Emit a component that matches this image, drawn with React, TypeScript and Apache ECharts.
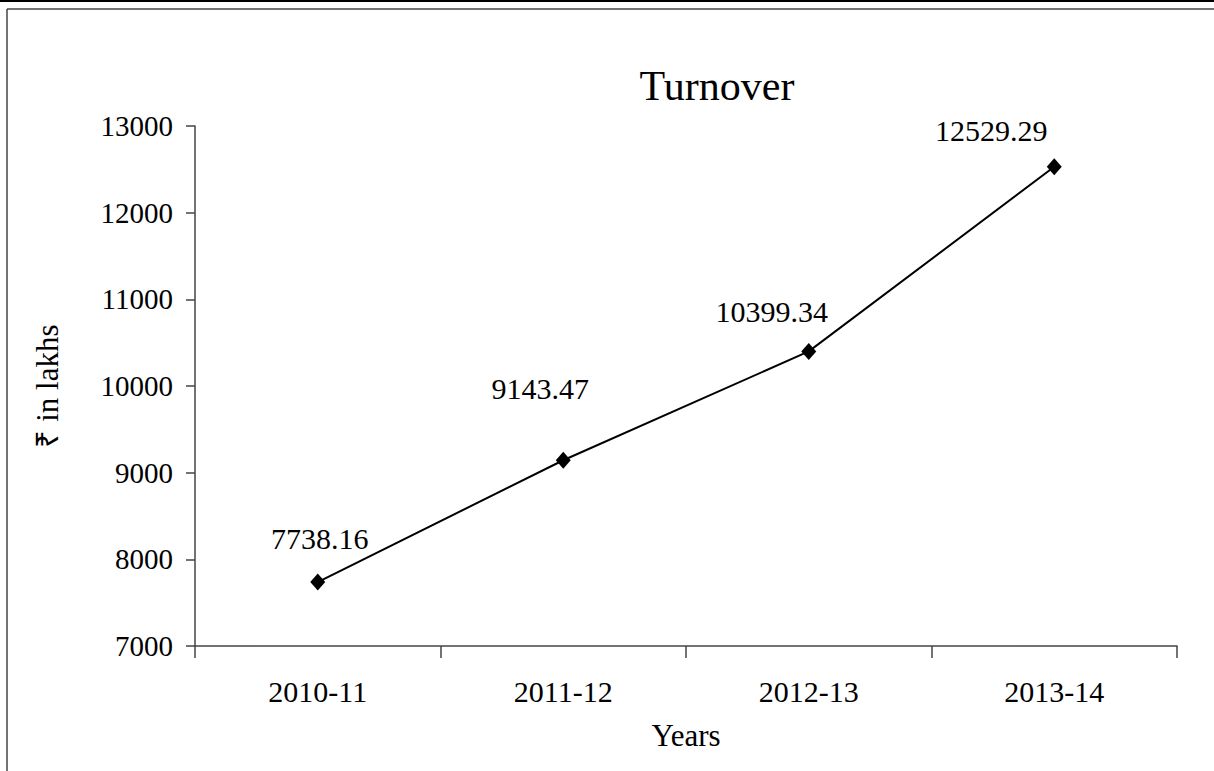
import React, { useEffect, useRef } from "react";
import * as echarts from "echarts";

const categories = ["2010-11", "2011-12", "2012-13", "2013-14"];
const turnover = [7738.16, 9143.47, 10399.34, 12529.29];
const labelOffsets: [number, number][] = [[2, -44], [-23, -72], [-37, -40], [-63, -36]];
const yTicks = { min: 7000, max: 13000, interval: 1000 };

const FONT = "'Liberation Serif', 'Times New Roman', serif";

export default function App() {
  const ref = useRef<HTMLDivElement>(null);
  useEffect(() => {
    if (!ref.current) return;
    const chart = echarts.init(ref.current, undefined, { renderer: "svg" });
    chart.setOption({
      animation: false,
      backgroundColor: "#ffffff",
      title: {
        text: "Turnover",
        left: 712,
        top: 60,
        textAlign: "center",
        textStyle: { fontFamily: FONT, fontSize: 42, fontWeight: "normal", color: "#000" },
      },
      grid: { left: 195, right: 37, top: 126, bottom: 125 },
      xAxis: {
        type: "category",
        data: categories,
        boundaryGap: true,
        name: "Years",
        nameLocation: "middle",
        nameGap: 74,
        nameTextStyle: { fontFamily: FONT, fontSize: 31, color: "#000" },
        axisLine: { lineStyle: { color: "#444", width: 1.5 } },
        axisTick: { show: true, length: 12, alignWithLabel: false, lineStyle: { color: "#444", width: 1.5 } },
        axisLabel: { fontFamily: FONT, fontSize: 30, color: "#000", margin: 30 },
        splitLine: { show: false },
      },
      yAxis: {
        type: "value",
        min: yTicks.min,
        max: yTicks.max,
        interval: yTicks.interval,
        name: "₹ in lakhs",
        nameLocation: "middle",
        nameGap: 132,
        nameRotate: 90,
        nameTextStyle: { fontFamily: FONT, fontSize: 31, color: "#000" },
        axisLine: { show: true, lineStyle: { color: "#444", width: 1.5 } },
        axisTick: { show: true, length: 9, lineStyle: { color: "#444", width: 1.5 } },
        axisLabel: { fontFamily: FONT, fontSize: 29, color: "#000", margin: 22, formatter: (v: number) => String(v) },
        splitLine: { show: false },
      },
      series: [
        {
          type: "line",
          data: turnover.map((v, i) => ({
            value: v,
            label: { offset: labelOffsets[i] },
          })),
          symbol: "diamond",
          symbolSize: [15, 17],
          itemStyle: { color: "#000" },
          lineStyle: { color: "#000", width: 2 },
          label: {
            show: true,
            position: "inside",
            fontFamily: FONT,
            fontSize: 30,
            color: "#000",
            formatter: (p: any) => p.value.toFixed(2),
          },
        },
      ],
      graphic: [
        { type: "line", shape: { x1: 0, y1: 1, x2: 1214, y2: 1 }, style: { stroke: "#000", lineWidth: 2 } },
        { type: "line", shape: { x1: 7, y1: 9, x2: 1214, y2: 9 }, style: { stroke: "#444", lineWidth: 1.5 } },
        { type: "line", shape: { x1: 7, y1: 9, x2: 7, y2: 771 }, style: { stroke: "#444", lineWidth: 1.5 } },
      ],
    });
    return () => chart.dispose();
  }, []);
  return <div ref={ref} style={{ position: "fixed", left: 0, top: 0, width: 1214, height: 771 }} />;
}
